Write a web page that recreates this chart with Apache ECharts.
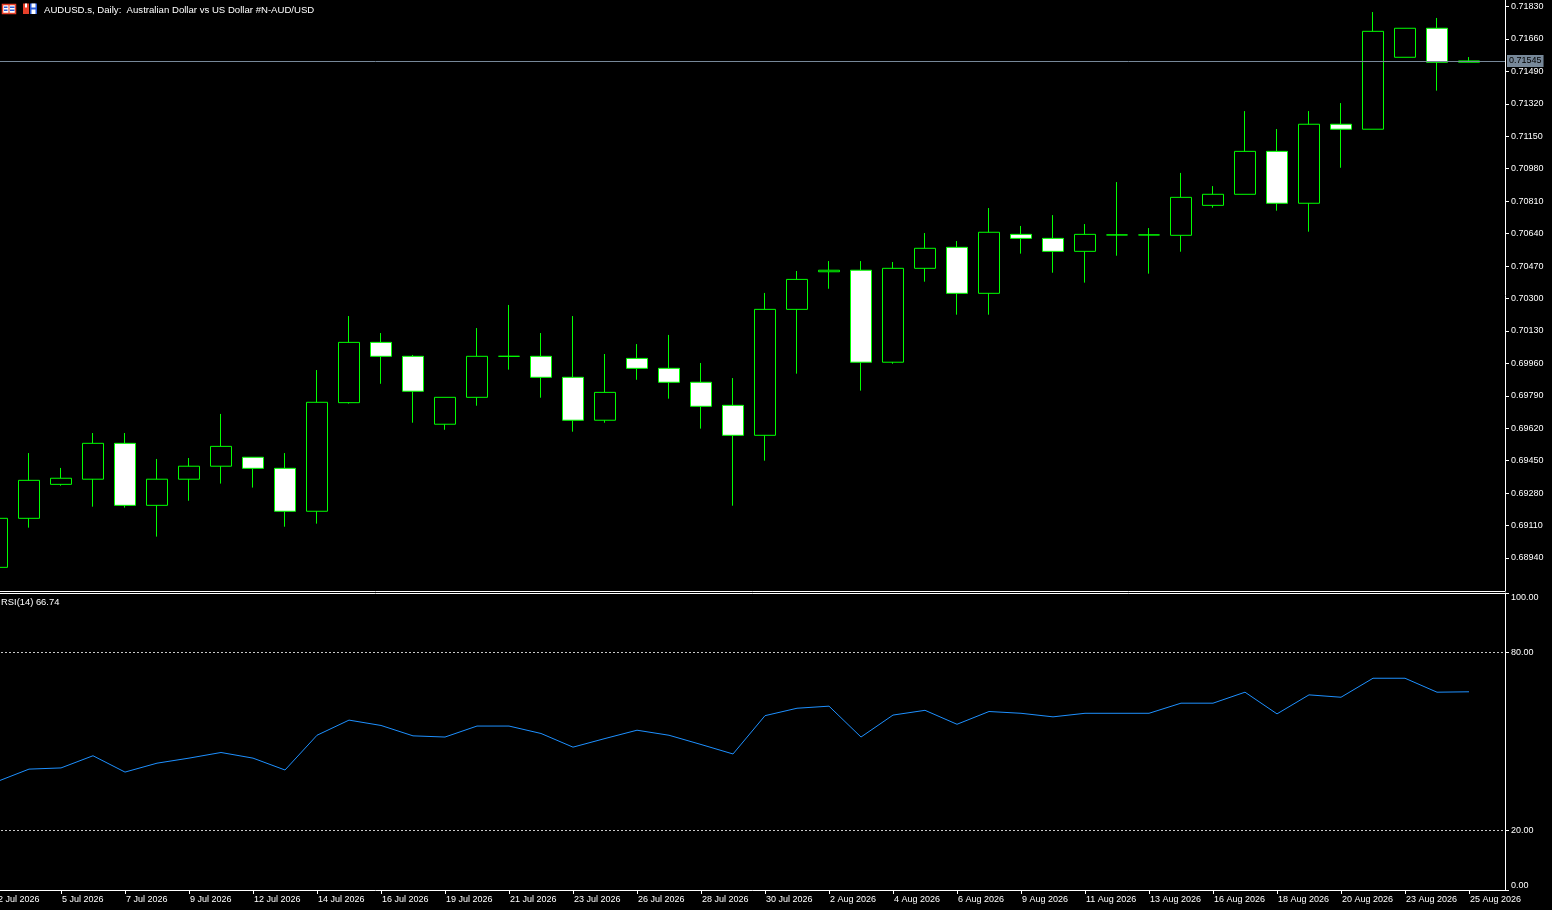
<!DOCTYPE html>
<html>
<head>
<meta charset="utf-8">
<title>AUDUSD.s, Daily</title>
<script src="https://cdn.jsdelivr.net/npm/echarts@6/dist/echarts.min.js"></script>
<style>
	html, body { margin: 0; padding: 0; background: #000; }
	#chart { width: 1552px; height: 910px; }
</style>
</head>
<body>
<div id="chart"></div>
<script>
	'use strict'
	/*-----data-----*/
	var dates = ['2 Jul 2026', '3 Jul 2026', '5 Jul 2026', '6 Jul 2026', '7 Jul 2026', '8 Jul 2026', '9 Jul 2026', '10 Jul 2026',
		'12 Jul 2026', '13 Jul 2026', '14 Jul 2026', '15 Jul 2026', '16 Jul 2026', '17 Jul 2026',
		'19 Jul 2026', '20 Jul 2026', '21 Jul 2026', '22 Jul 2026', '23 Jul 2026', '24 Jul 2026',
		'26 Jul 2026', '27 Jul 2026', '28 Jul 2026', '29 Jul 2026', '30 Jul 2026', '31 Jul 2026',
		'2 Aug 2026', '3 Aug 2026', '4 Aug 2026', '5 Aug 2026', '6 Aug 2026', '7 Aug 2026',
		'9 Aug 2026', '10 Aug 2026', '11 Aug 2026', '12 Aug 2026', '13 Aug 2026', '14 Aug 2026',
		'16 Aug 2026', '17 Aug 2026', '18 Aug 2026', '19 Aug 2026', '20 Aug 2026', '21 Aug 2026',
		'23 Aug 2026', '24 Aug 2026', '25 Aug 2026'];
	var opens = [0.68891, 0.69148, 0.69326, 0.69353, 0.69541, 0.69216, 0.69353, 0.69421, 0.69468, 0.69410,
		0.69185, 0.69754, 0.70070, 0.69997, 0.69641, 0.69782, 0.69997, 0.69997, 0.69887, 0.69662,
		0.69986, 0.69934, 0.69861, 0.69740, 0.69583, 0.70243, 0.70440, 0.70448, 0.69966, 0.70458,
		0.70568, 0.70327, 0.70636, 0.70615, 0.70547, 0.70633, 0.70633, 0.70631, 0.70788, 0.70846,
		0.71071, 0.70799, 0.71213, 0.71187, 0.71564, 0.71716, 0.71538];
	var closes = [0.69148, 0.69347, 0.69358, 0.69541, 0.69216, 0.69353, 0.69421, 0.69525, 0.69410, 0.69185,
		0.69756, 0.70070, 0.69997, 0.69814, 0.69782, 0.69997, 0.69997, 0.69887, 0.69662, 0.69808,
		0.69934, 0.69861, 0.69735, 0.69583, 0.70243, 0.70400, 0.70448, 0.69966, 0.70458, 0.70563,
		0.70327, 0.70647, 0.70615, 0.70547, 0.70636, 0.70633, 0.70633, 0.70830, 0.70846, 0.71071,
		0.70799, 0.71213, 0.71187, 0.71700, 0.71716, 0.71538, 0.71545];
	var lows = [0.68850, 0.69099, 0.69319, 0.69209, 0.69204, 0.69052, 0.69240, 0.69330, 0.69309, 0.69104,
		0.69120, 0.69749, 0.69853, 0.69649, 0.69612, 0.69738, 0.69927, 0.69780, 0.69602, 0.69649,
		0.69874, 0.69775, 0.69618, 0.69214, 0.69450, 0.69906, 0.70351, 0.69817, 0.69958, 0.70388,
		0.70215, 0.70215, 0.70535, 0.70435, 0.70383, 0.70524, 0.70430, 0.70545, 0.70776, 0.70846,
		0.70760, 0.70650, 0.70985, 0.71187, 0.71564, 0.71389, 0.71538];
	var highs = [0.69175, 0.69490, 0.69412, 0.69595, 0.69595, 0.69459, 0.69464, 0.69695, 0.69468, 0.69490,
		0.69925, 0.70208, 0.70119, 0.70004, 0.69782, 0.70145, 0.70266, 0.70119, 0.70208, 0.70009,
		0.70061, 0.70109, 0.69962, 0.69883, 0.70329, 0.70444, 0.70496, 0.70496, 0.70491, 0.70643,
		0.70601, 0.70774, 0.70680, 0.70737, 0.70690, 0.70910, 0.70669, 0.70958, 0.70889, 0.71282,
		0.71188, 0.71282, 0.71324, 0.71801, 0.71716, 0.71770, 0.71565];
	var rsi = [36.5, 40.7, 41.1, 45.2, 39.7, 42.7, 44.4, 46.3, 44.4, 40.4,
		52.1, 57.2, 55.4, 51.9, 51.5, 55.2, 55.2, 52.7, 48.1, 51.0,
		53.8, 52.1, 49.0, 45.8, 58.7, 61.2, 61.9, 51.5, 58.9, 60.5,
		55.8, 60.1, 59.5, 58.3, 59.5, 59.5, 59.5, 62.9, 62.9, 66.6,
		59.3, 65.7, 64.9, 71.3, 71.3, 66.6, 66.74];
	var priceTicks = [0.68940, 0.69110, 0.69280, 0.69450, 0.69620, 0.69790, 0.69960, 0.70130, 0.70300,
		0.70470, 0.70640, 0.70810, 0.70980, 0.71150, 0.71320, 0.71490, 0.71660, 0.71830];
	var rsiTicks = [0, 20, 80, 100];
	var rsiLevels = [80, 20];
	var lastPrice = 0.71545;
	var dateTicks = [];
	for (var t = 0; t < dates.length; t += 2) {
		dateTicks.push(t);
	}

	var font = "'Liberation Sans', Arial, sans-serif";
	var candles = dates.map(function(d, i) {
		return [i, opens[i], closes[i], lows[i], highs[i]];
	});
	var rsiLine = rsi.map(function(v, i) {
		return [i, v];
	});

	var chart = echarts.init(document.getElementById('chart'));
	var option = {
		backgroundColor: '#000',
		animation: false,
		grid: [{
			left: -3,
			right: 47,
			top: 0,
			height: 591,
			outerBoundsMode: 'none'
		}, {
			left: -3,
			right: 47,
			top: 593,
			height: 297,
			outerBoundsMode: 'none'
		}],
		xAxis: [{
			type: 'value',
			gridIndex: 0,
			min: 0,
			max: 47.125,
			axisLine: { onZero: false, lineStyle: { color: '#fff', width: 1 } },
			axisTick: { show: false },
			axisLabel: { show: false },
			splitLine: { show: false }
		}, {
			type: 'value',
			gridIndex: 1,
			min: 0,
			max: 47.125,
			position: 'bottom',
			axisLine: { onZero: false, lineStyle: { color: '#fff', width: 1 } },
			axisTick: {
				show: true,
				customValues: dateTicks,
				length: 4,
				lineStyle: { color: '#fff' }
			},
			axisLabel: {
				customValues: dateTicks,
				formatter: function(v) { return dates[v]; },
				align: 'left',
				margin: 5,
				padding: [0, 0, 0, 1],
				color: '#fff',
				fontSize: 9,
				fontFamily: font
			},
			splitLine: { show: false }
		}, {
			type: 'value',
			gridIndex: 1,
			min: 0,
			max: 47.125,
			position: 'top',
			axisLine: { onZero: false, lineStyle: { color: '#fff', width: 1 } },
			axisTick: { show: false },
			axisLabel: { show: false },
			splitLine: { show: false }
		}],
		yAxis: [{
			type: 'value',
			gridIndex: 0,
			position: 'right',
			min: 0.687671,
			max: 0.718641,
			axisLine: { show: true, onZero: false, lineStyle: { color: '#fff', width: 1 } },
			axisTick: {
				show: true,
				customValues: priceTicks,
				length: 4,
				lineStyle: { color: '#fff' }
			},
			axisLabel: {
				customValues: priceTicks,
				formatter: function(v) { return v.toFixed(5); },
				margin: 6,
				color: '#fff',
				fontSize: 9,
				fontFamily: font
			},
			splitLine: { show: false }
		}, {
			type: 'value',
			gridIndex: 1,
			position: 'right',
			min: 0,
			max: 100,
			axisLine: { show: true, onZero: false, lineStyle: { color: '#fff', width: 1 } },
			axisTick: {
				show: true,
				customValues: rsiTicks,
				length: 4,
				lineStyle: { color: '#fff' }
			},
			axisLabel: {
				customValues: rsiTicks,
				formatter: function(v) { return v.toFixed(2); },
				verticalAlignMaxLabel: 'top',
				verticalAlignMinLabel: 'bottom',
				margin: 6,
				color: '#fff',
				fontSize: 9,
				fontFamily: font
			},
			splitLine: { show: false }
		}],
		series: [{
			name: 'AUDUSD.s',
			type: 'candlestick',
			xAxisIndex: 0,
			yAxisIndex: 0,
			barWidth: 22,
			encode: { x: 0, y: [1, 2, 3, 4] },
			data: candles,
			itemStyle: {
				color: '#000',
				color0: '#fff',
				borderColor: '#00ff00',
				borderColor0: '#00ff00',
				borderWidth: 1
			},
			markLine: {
				silent: true,
				symbol: 'none',
				animation: false,
				precision: 5,
				lineStyle: { color: '#778899', width: 1, type: 'solid' },
				label: {
					position: 'end',
					distance: 2,
					formatter: lastPrice.toFixed(5),
					color: '#000',
					backgroundColor: '#778899',
					padding: [2, 2, 1, 2],
					fontSize: 9,
					fontFamily: font
				},
				emphasis: { disabled: true },
				data: [{ yAxis: lastPrice }]
			}
		}, {
			name: 'RSI(14)',
			type: 'line',
			xAxisIndex: 1,
			yAxisIndex: 1,
			data: rsiLine,
			showSymbol: false,
			symbol: 'none',
			lineStyle: { color: '#1e90ff', width: 1 },
			markLine: {
				silent: true,
				symbol: 'none',
				animation: false,
				lineStyle: { color: '#c8c8c8', width: 1, type: [2, 2] },
				label: { show: false },
				emphasis: { disabled: true },
				data: rsiLevels.map(function(v) { return { yAxis: v }; })
			}
		}],
		graphic: [
			// list icon
			{ type: 'rect', shape: { x: 2.5, y: 4.5, width: 13, height: 9 }, style: { fill: '#fff', stroke: '#e8402a', lineWidth: 1.5 } },
			{ type: 'rect', shape: { x: 8.5, y: 5, width: 1, height: 8 }, style: { fill: '#e8402a' } },
			{ type: 'rect', shape: { x: 4, y: 6.5, width: 3.5, height: 1.5 }, style: { fill: '#2a5bd7' } },
			{ type: 'rect', shape: { x: 10, y: 6.5, width: 4.5, height: 1.5 }, style: { fill: '#2a5bd7' } },
			{ type: 'rect', shape: { x: 4, y: 9.5, width: 3.5, height: 1.5 }, style: { fill: '#2a5bd7' } },
			{ type: 'rect', shape: { x: 10, y: 9.5, width: 4.5, height: 1.5 }, style: { fill: '#2a5bd7' } },
			// save icon
			{ type: 'rect', shape: { x: 23, y: 3.5, width: 6, height: 10.5 }, style: { fill: '#e8402a' } },
			{ type: 'rect', shape: { x: 25, y: 3.5, width: 2, height: 4 }, style: { fill: '#fff' } },
			{ type: 'rect', shape: { x: 30, y: 3.5, width: 7, height: 10.5 }, style: { fill: '#2a5bd7' } },
			{ type: 'rect', shape: { x: 31.5, y: 3.5, width: 4, height: 4 }, style: { fill: '#fff' } },
			{ type: 'rect', shape: { x: 31.5, y: 9.5, width: 4, height: 4.5 }, style: { fill: '#fff' } },
			{
				type: 'text',
				left: 44,
				top: 5,
				style: {
					text: 'AUDUSD.s, Daily:  Australian Dollar vs US Dollar #N-AUD/USD',
					fill: '#fff',
					font: '9.6px ' + font
				}
			},
			{
				type: 'text',
				left: 1,
				top: 598,
				style: {
					text: 'RSI(14) ' + rsi[rsi.length - 1].toFixed(2),
					fill: '#fff',
					font: '9.4px ' + font
				}
			}
		]
	};
	chart.setOption(option);
</script>
</body>
</html>
